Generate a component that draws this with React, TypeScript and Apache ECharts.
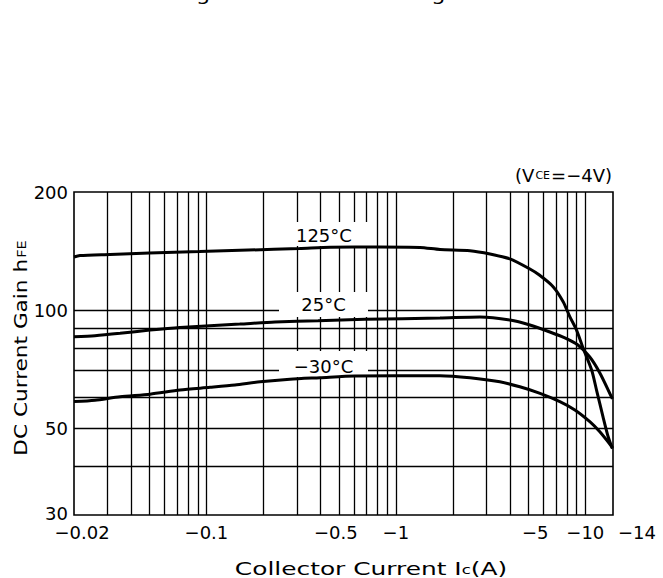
import React, { useEffect, useRef } from 'react';
import * as echarts from 'echarts';

// ---- data (Ic in A, magnitude; hFE) ----
const ic125 = [0.02, 0.0215, 0.031, 0.05, 0.092, 0.166, 0.31, 0.45, 0.82, 1.34, 1.71, 2.46, 3.14, 4.0, 5.1, 5.72, 6.76, 7.64, 8.28, 8.99, 9.74, 10.8, 11.46, 12.4, 13.2, 13.9];
const hfe125 = [136.5, 137.7, 138.6, 139.8, 141, 142.2, 143.5, 144.5, 144.8, 144.4, 142.7, 141.7, 139, 135, 127.2, 122.8, 114.7, 105, 96.2, 88.9, 79.9, 70.3, 62.5, 53.4, 47.5, 44.3];

const ic25 = [0.02, 0.0258, 0.035, 0.0504, 0.0725, 0.15, 0.23, 0.388, 0.686, 1.71, 2.78, 4.0, 5.1, 6.5, 7.8, 9.14, 10.56, 11.93, 13.9];
const hfe25 = [85.5, 86.0, 87.2, 88.9, 90.3, 92.1, 93.2, 93.9, 94.7, 95.4, 96.0, 94.3, 91.6, 87.9, 84.9, 81.4, 75.9, 69.1, 59.3];

const icM30 = [0.02, 0.0258, 0.035, 0.0504, 0.0725, 0.1044, 0.1415, 0.192, 0.276, 0.397, 0.608, 1.71, 2.46, 3.54, 4.51, 5.72, 7.34, 8.81, 10.56, 11.93, 13.9];
const hfeM30 = [58.4, 58.9, 60.1, 61.0, 62.5, 63.5, 64.4, 65.6, 66.6, 67.2, 67.9, 68.0, 67.2, 65.6, 63.7, 61.4, 58.4, 55.6, 51.9, 48.9, 44.6];

const seriesNames = ['125°C', '25°C', '−30°C'];

// ---- axes ----
const xMin = 0.02;
const xMax = 14;
const yMin = 30;
const yMax = 200;
const xTickValues = [0.02, 0.1, 0.5, 1, 5, 10, 14];
const xTickLabels = ['−0.02', '−0.1', '−0.5', '−1', '−5', '−10', '−14'];
const yTickValues = [30, 50, 100, 200];
const yTickLabels = ['30', '50', '100', '200'];
const xGridValues = [0.03, 0.04, 0.05, 0.06, 0.07, 0.08, 0.09, 0.1, 0.2, 0.3, 0.4, 0.5, 0.6, 0.7, 0.8, 0.9, 1, 2, 3, 4, 5, 6, 7, 8, 9, 10];
const yGridValues = [40, 50, 60, 70, 80, 90, 100];

// ---- layout / style (not data) ----
const FONT = 'DejaVu Sans';
// left/right padding (px) per x label, to nudge labels like the reference
const xLabelPad: [number, number][] = [[16, 0], [0, 0], [0, 6], [0, 0], [14, 0], [0, 0], [5, 0]];
// bottom padding per y label
const yLabelPadBottom = [4, 0, 0, 0];
const labelAnchors: Record<string, [number, number]> = {
  '125°C': [0.417, 156.2],
  '25°C': [0.415, 103.3],
  '−30°C': [0.415, 72.8],
};

function nearestIndex(arr: number[], v: number) {
  let best = 0;
  arr.forEach((a, i) => {
    if (Math.abs(Math.log(a) - Math.log(v)) < Math.abs(Math.log(arr[best]) - Math.log(v))) best = i;
  });
  return best;
}

export default function App() {
  const ref = useRef<HTMLDivElement>(null);

  useEffect(() => {
    if (!ref.current) return;
    const chart = echarts.init(ref.current, undefined, { renderer: 'svg' });

    const zip = (xs: number[], ys: number[]) => xs.map((x, i) => [x, ys[i]]);

    const xRich: Record<string, any> = {};
    xLabelPad.forEach(([l, r], i) => {
      xRich['t' + i] = {
        fontSize: 18,
        lineHeight: 14,
        fontFamily: FONT,
        color: '#000',
        padding: [0, r, 0, l],
      };
    });
    const yRich: Record<string, any> = {};
    yLabelPadBottom.forEach((b, i) => {
      yRich['t' + i] = {
        fontSize: 18,
        lineHeight: 14,
        fontFamily: FONT,
        color: '#000',
        padding: [0, 0, b, 0],
      };
    });

    const markBox = (text: string, w: number, h: number, dy: number) => ({
      silent: true,
      z: 2,
      animation: false,
      symbol: 'rect',
      symbolSize: [w, h],
      itemStyle: { color: '#fff' },
      label: {
        show: true,
        position: 'inside',
        formatter: text,
        color: '#000',
        fontSize: 18,
        fontFamily: FONT,
        offset: [0, dy],
      },
      data: [{ coord: labelAnchors[text] }],
    });

    const curveBase = {
      type: 'line',
      showSymbol: false,
      smooth: 0.25,
      silent: true,
      z: 3,
      lineStyle: { color: '#000', width: 3 },
    };

    const option: any = {
      animation: false,
      textStyle: { fontFamily: FONT },
      grid: {
        left: 74,
        right: 50,
        top: 192,
        bottom: 63,
        show: true,
        borderColor: '#000',
        borderWidth: 1.6,
        backgroundColor: 'transparent',
      },
      xAxis: {
        type: 'log',
        logBase: 10,
        min: xMin,
        max: xMax,
        axisLine: { show: false },
        axisTick: { show: false },
        splitLine: { show: false },
        minorSplitLine: { show: false },
        axisLabel: {
          customValues: xTickValues,
          showMinLabel: true,
          showMaxLabel: true,
          alignMaxLabel: 'left',
          hideOverlap: false,
          margin: 10,
          lineHeight: 14,
          color: '#000',
          fontSize: 18,
          fontFamily: FONT,
          formatter: (v: number) => {
            const i = nearestIndex(xTickValues, v);
            return '{t' + i + '|' + xTickLabels[i] + '}';
          },
          rich: xRich,
        },
      },
      yAxis: {
        type: 'log',
        logBase: 10,
        min: yMin,
        max: yMax,
        axisLine: { show: false },
        axisTick: { show: false },
        splitLine: { show: false },
        axisLabel: {
          customValues: yTickValues,
          showMinLabel: true,
          showMaxLabel: true,
          margin: 6,
          lineHeight: 14,
          color: '#000',
          fontSize: 18,
          fontFamily: FONT,
          formatter: (v: number) => {
            const i = nearestIndex(yTickValues, v);
            return '{t' + i + '|' + yTickLabels[i] + '}';
          },
          rich: yRich,
        },
      },
      series: [
        {
          ...curveBase,
          name: seriesNames[0],
          data: zip(ic125, hfe125),
          markLine: {
            silent: true,
            z: 1,
            animation: false,
            symbol: ['none', 'none'],
            label: { show: false },
            lineStyle: { color: '#000', width: 1.3, type: 'solid', opacity: 1 },
            emphasis: { disabled: true },
            data: [
              ...xGridValues.map((v) => ({ xAxis: v })),
              ...yGridValues.map((v) => ({ yAxis: v })),
            ],
          },
          markPoint: markBox(seriesNames[0], 94, 24, 1),
        },
        {
          ...curveBase,
          name: seriesNames[1],
          data: zip(ic25, hfe25),
          markPoint: markBox(seriesNames[1], 89, 25, 0),
        },
        {
          ...curveBase,
          name: seriesNames[2],
          data: zip(icM30, hfeM30),
          markPoint: markBox(seriesNames[2], 89, 26, 2),
        },
      ],
      graphic: {
        elements: [
          {
            type: 'text',
            x: 312,
            y: 3,
            silent: true,
            scaleX: 1.24,
            style: {
              text: 'Fig. 3  hFE – IC Derating',
              fontSize: 18,
              fontFamily: FONT,
              fill: '#000',
              align: 'center',
              verticalAlign: 'bottom',
            },
          },
          {
            type: 'text',
            x: 612,
            y: 175,
            silent: true,
            style: {
              text: '{a|(V}{b|CE}{a|=−4V)}',
              align: 'right',
              verticalAlign: 'middle',
              rich: {
                a: { fontSize: 18, fontFamily: FONT, fill: '#000' },
                b: { fontSize: 11, fontFamily: FONT, fill: '#000', verticalAlign: 'bottom', padding: [0, 1, 3, 1] },
              },
            },
          },
          {
            type: 'text',
            x: 371,
            y: 569,
            silent: true,
            scaleX: 1.38,
            style: {
              text: '{a|Collector Current I}{b|c}{a|(A)}',
              align: 'center',
              verticalAlign: 'middle',
              rich: {
                a: { fontSize: 18, lineHeight: 15, fontFamily: FONT, fill: '#000' },
                b: { fontSize: 12, lineHeight: 11, fontFamily: FONT, fill: '#000', verticalAlign: 'bottom', padding: [0, 0, 1, 0] },
              },
            },
          },
          {
            type: 'text',
            x: 21,
            y: 348,
            rotation: Math.PI / 2,
            silent: true,
            scaleX: 1.2,
            style: {
              text: '{a|DC Current Gain h}{b|FE}',
              align: 'center',
              verticalAlign: 'middle',
              rich: {
                a: { fontSize: 18, lineHeight: 16, fontFamily: FONT, fill: '#000' },
                b: { fontSize: 12, lineHeight: 11, fontFamily: FONT, fill: '#000', verticalAlign: 'bottom', padding: [0, 0, 1, 1] },
              },
            },
          },
        ],
      },
    };

    chart.setOption(option);
    return () => {
      chart.dispose();
    };
  }, []);

  return (
    <div
      ref={ref}
      style={{ position: 'absolute', left: 0, top: 0, width: 663, height: 578, background: '#fff' }}
    />
  );
}
